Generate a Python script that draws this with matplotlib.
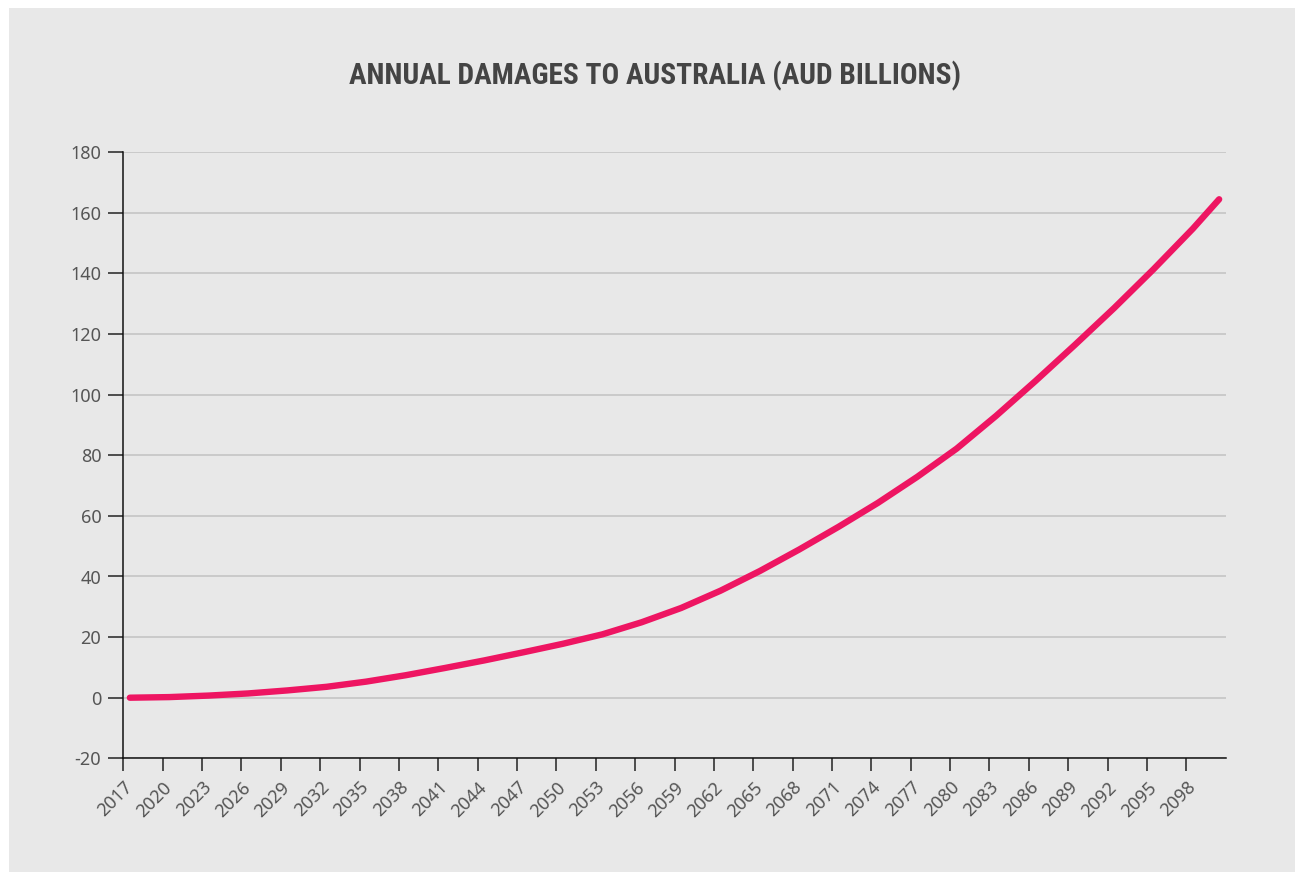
import numpy as np
import matplotlib
matplotlib.use("Agg")
import matplotlib.pyplot as plt
from matplotlib.patches import Rectangle

# annual damages, every 3 years (AUD billions)
years = [2017, 2020, 2023, 2026, 2029, 2032, 2035, 2038, 2041, 2044,
         2047, 2050, 2053, 2056, 2059, 2062, 2065, 2068, 2071, 2074,
         2077, 2080, 2083, 2086, 2089, 2092, 2095, 2098, 2100]
damages = [0.0, 0.2, 0.7, 1.4, 2.4, 3.6, 5.3, 7.4, 9.8, 12.3,
           15.0, 17.8, 20.9, 24.9, 29.6, 35.3, 41.8, 48.9, 56.4, 64.3,
           72.9, 82.2, 93.0, 104.5, 116.4, 128.6, 141.4, 154.8, 164.5]
tick_years = list(range(2017, 2099, 3))
y_ticks = list(range(-20, 181, 20))

TITLE = "ANNUAL DAMAGES TO AUSTRALIA (AUD BILLIONS)"
PINK = "#ee1562"
BG = "#e8e8e8"

W, H = 1295, 872


def main():
    fig = plt.figure(figsize=(W / 100, H / 100), dpi=100, facecolor="white")
    fig.patches.append(Rectangle((9 / W, 0), 1 - 9 / W, 1 - 8 / H,
                                 transform=fig.transFigure, facecolor=BG,
                                 edgecolor="none", zorder=-10))

    left, right = 123.3 / W, 1225.7 / W
    top, bottom = 1 - 152.3 / H, 1 - 758.3 / H
    ax = fig.add_axes([left, bottom, right - left, top - bottom])
    ax.set_facecolor("none")

    ax.plot(years, damages, color=PINK, lw=4.6, solid_capstyle="round",
            solid_joinstyle="round", zorder=3)

    ax.set_xlim(2016.5, 2100.5)
    ax.set_ylim(-20, 180)

    ax.set_yticks(y_ticks)
    ax.set_yticklabels([str(v) for v in y_ticks])
    ax.yaxis.grid(True, color="#c2c2c2", lw=1.1)
    ax.set_axisbelow(True)

    # tick marks at band edges, labels at band centres
    ax.set_xticks([y - 0.5 for y in tick_years])
    ax.set_xticklabels([])
    ax.set_xticks(tick_years, minor=True)
    ax.set_xticklabels([str(y) for y in tick_years], minor=True)

    for s in ["top", "right"]:
        ax.spines[s].set_visible(False)
    for s in ["left", "bottom"]:
        ax.spines[s].set_color("#111111")
        ax.spines[s].set_linewidth(1.1)

    ax.tick_params(axis="y", length=10.8, width=1.1, color="#222222",
                   pad=5, labelsize=13, labelcolor="#555555")
    ax.tick_params(axis="x", which="major", length=9, width=1.1, color="#222222")
    ax.tick_params(axis="x", which="minor", length=0, pad=19,
                   labelsize=13, labelcolor="#555555")

    for lab in ax.get_yticklabels():
        lab.set_fontfamily("Noto Sans")
    for lab in ax.get_xticklabels(minor=True):
        lab.set_fontfamily("Noto Sans")
        lab.set_rotation(45)
        lab.set_ha("right")
        lab.set_va("center")
        lab.set_rotation_mode("anchor")

    fig.text(655 / W, 1 - 76 / H, TITLE, ha="center", va="center",
             fontsize=21.2, fontweight="bold", color="#444444",
             fontstretch="condensed",
             family=["Roboto Condensed", "DejaVu Sans Condensed", "Roboto"])

    fig.savefig("out.png", dpi=100, facecolor=fig.get_facecolor())


if __name__ == "__main__":
    main()
